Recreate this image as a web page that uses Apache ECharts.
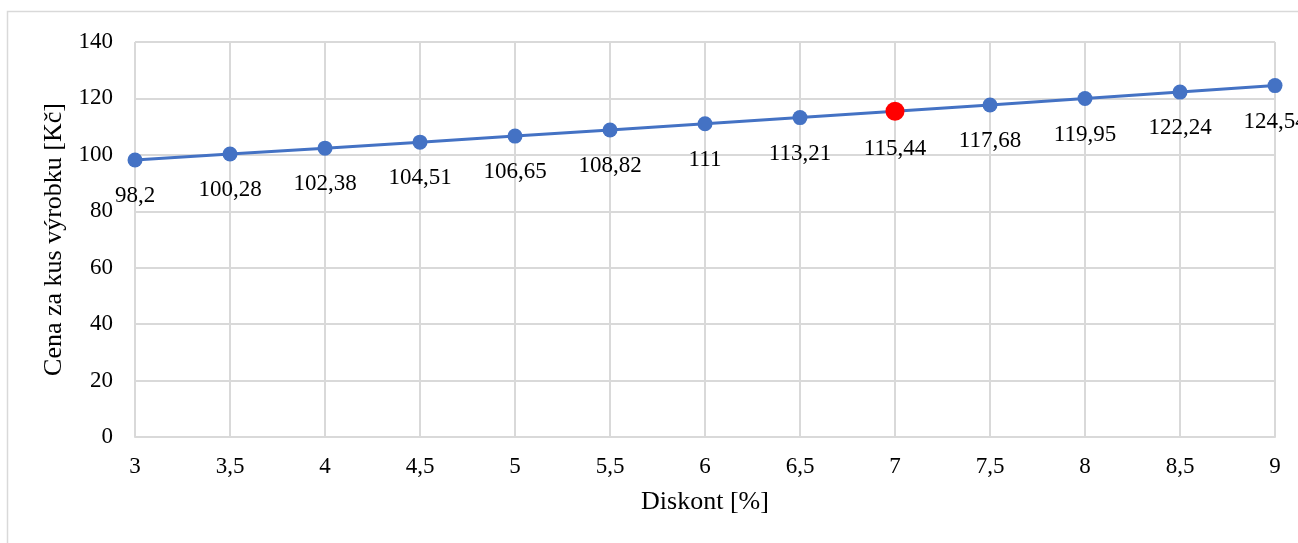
<!DOCTYPE html>
<html><head><meta charset="utf-8">
<script src="https://cdn.jsdelivr.net/npm/echarts@6/dist/echarts.min.js"></script>
<style>html,body{margin:0;padding:0;background:#fff}#c{width:1298px;height:543px}</style>
</head><body><div id="c"></div>
<script>
const discounts = [3, 3.5, 4, 4.5, 5, 5.5, 6, 6.5, 7, 7.5, 8, 8.5, 9];
const prices = [98.2, 100.28, 102.38, 104.51, 106.65, 108.82, 111, 113.21, 115.44, 117.68, 119.95, 122.24, 124.54];
const highlightX = 7;
const xName = 'Diskont [%]';
const yName = 'Cena za kus výrobku [Kč]';
const font = '"Liberation Serif", "Times New Roman", serif';
const fs = 23;
const fsTitle = 26;
const comma = v => String(v).replace('.', ',');
const chart = echarts.init(document.getElementById('c'));
chart.setOption({
  animation: false,
  graphic: [{type:'rect', shape:{x:7.5, y:11.5, width:1400, height:600}, style:{fill:'none', stroke:'#d9d9d9', lineWidth:1.5}, z:-1}],
  grid: {left:135, right:23, top:42, bottom:106},
  xAxis: {type:'value', min:3, max:9, interval:0.5,
    name:xName, nameLocation:'middle', nameGap:52,
    nameTextStyle:{fontFamily:font, fontSize:fsTitle, color:'#000'},
    axisLine:{show:true, lineStyle:{color:'#d9d9d9', width:2}},
    axisTick:{show:false},
    axisLabel:{fontFamily:font, fontSize:fs, color:'#000', margin:18, formatter:comma},
    splitLine:{show:true, lineStyle:{color:'#d9d9d9', width:2}}},
  yAxis: {type:'value', min:0, max:140, interval:20,
    name:yName, nameLocation:'middle', nameGap:66,
    nameTextStyle:{fontFamily:font, fontSize:fsTitle, color:'#000'},
    axisLine:{show:false}, axisTick:{show:false},
    axisLabel:{fontFamily:font, fontSize:fs, color:'#000', margin:22},
    splitLine:{show:true, lineStyle:{color:'#d9d9d9', width:2}}},
  series: [{type:'line',
    data: discounts.map((d,i)=>({value:[d, prices[i]],
      symbolSize: d===highlightX ? 19 : 15,
      itemStyle: d===highlightX ? {color:'#ff0000'} : undefined})),
    symbol:'circle', symbolSize:15,
    lineStyle:{color:'#4472c4', width:3},
    itemStyle:{color:'#4472c4'},
    label:{show:true, position:'bottom', distance:17, fontFamily:font, fontSize:fs, color:'#000',
      formatter: p => comma(p.value[1])}
  }]
});
</script></body></html>
